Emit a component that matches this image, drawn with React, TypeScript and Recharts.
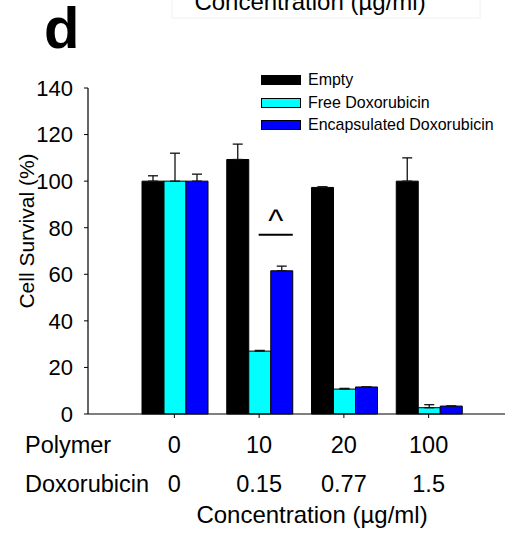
import React from "react";
import { BarChart, Bar, XAxis, YAxis, ErrorBar } from "recharts";

const polymer = ["0", "10", "20", "100"];
const doxorubicin = ["0", "0.15", "0.77", "1.5"];

const empty = [100, 109.3, 97.3, 100];
const emptyErr = [2.3, 6.6, 0.3, 10];
const freeDox = [100, 27, 10.7, 2.7];
const freeDoxErr = [12, 0.3, 0.3, 1.3];
const encDox = [100, 61.5, 11.6, 3.4];
const encDoxErr = [3, 2, 0, 0];

const yTicks = [0, 20, 40, 60, 80, 100, 120, 140];
const sigLevel = 77; // height of the "^" bracket over 10 µg/ml

const FONT = '"Liberation Sans", Arial, sans-serif';
const NARROW = '"Liberation Sans Narrow", "Arial Narrow", "Liberation Sans", sans-serif';

const SERIES = [
  { key: "empty", name: "Empty", color: "#000000" },
  { key: "free", name: "Free Doxorubicin", color: "#00ffff" },
  { key: "enc", name: "Encapsulated Doxorubicin", color: "#0000ff" },
];

// error bars are drawn upward only: [lower, upper]
const data = polymer.map((p, i) => ({
  polymer: p,
  empty: empty[i],
  emptyErr: [0, emptyErr[i]],
  free: freeDox[i],
  freeErr: [0, freeDoxErr[i]],
  enc: encDox[i],
  encErr: [0, encDoxErr[i]],
}));

function ConcTick(props: any) {
  const { x, y, payload, index } = props;
  return (
    <g fontFamily={FONT} fontSize={23.5} fill="#000">
      <text x={x} y={y + 35} textAnchor="middle">
        {payload.value}
      </text>
      <text x={x} y={y + 74} textAnchor="middle">
        {doxorubicin[index]}
      </text>
    </g>
  );
}

function SigMark(props: any) {
  if (props.index !== 1) return null;
  const { x, y, width, height } = props;
  const value = encDox[1];
  const h = Math.abs(height);
  const base = y + h;
  const yy = base - (sigLevel / value) * h;
  const x1 = x - width * 0.55;
  const x2 = x + width;
  return (
    <g>
      <line x1={x1} x2={x2} y1={yy} y2={yy} stroke="#000" strokeWidth={2} />
      <text
        x={(x1 + x2) / 2}
        y={yy - 4}
        textAnchor="middle"
        fontFamily={FONT}
        fontSize={32}
        fill="#000"
      >
        ^
      </text>
    </g>
  );
}

export default function App() {
  return (
    <div
      style={{
        position: "absolute",
        left: 0,
        top: 0,
        width: 507,
        height: 543,
        overflow: "hidden",
        background: "#fff",
        fontFamily: FONT,
      }}
    >
      <BarChart
        width={507}
        height={543}
        data={data}
        margin={{ top: 88, right: 2, bottom: 99, left: 28 }}
        barGap={0}
        barCategoryGap={10}
      >
        <XAxis
          dataKey="polymer"
          height={30}
          padding={{ left: 44, right: 34 }}
          axisLine={{ stroke: "#000", strokeWidth: 1.2 }}
          tickLine={{ stroke: "#000" }}
          tickSize={4}
          tickMargin={0}
          tick={<ConcTick />}
          interval={0}
        />
        <YAxis
          width={60}
          domain={[0, 140]}
          ticks={yTicks}
          interval={0}
          axisLine={{ stroke: "#000", strokeWidth: 1.2 }}
          tickLine={{ stroke: "#000" }}
          tickSize={4}
          tickMargin={11}
          tick={{ fill: "#000", fontSize: 22, fontFamily: NARROW }}
        />
        {SERIES.map((s) => (
          <Bar
            key={s.key}
            dataKey={s.key}
            name={s.name}
            fill={s.color}
            stroke="#000"
            strokeWidth={1}
            isAnimationActive={false}
            label={s.key === "enc" ? (p: any) => <SigMark {...p} /> : undefined}
          >
            <ErrorBar
              dataKey={s.key + "Err"}
              width={5}
              stroke="#111"
              strokeWidth={1.3}
            />
          </Bar>
        ))}
      </BarChart>

      {/* legend */}
      {SERIES.map((s, i) => (
        <div
          key={s.key}
          style={{
            position: "absolute",
            left: 261,
            top: 69 + i * 22.5,
            height: 22,
            display: "flex",
            alignItems: "center",
            fontSize: 17,
            color: "#000",
            whiteSpace: "nowrap",
          }}
        >
          <span
            style={{
              display: "inline-block",
              width: 38,
              height: 8,
              background: s.color,
              border: "1px solid #000",
              marginRight: 7,
            }}
          />
          <span style={{ display: "inline-block", transform: "scaleX(0.94)", transformOrigin: "left center" }}>
            {s.name}
          </span>
        </div>
      ))}

      <svg
        width={507}
        height={543}
        style={{ position: "absolute", left: 0, top: 0, pointerEvents: "none" }}
      >
        <rect x={172} y={-2} width={308} height={20} fill="none" stroke="#f0f0f0" />
        <text x={310} y={10} textAnchor="middle" fontFamily={FONT} fontSize={24} fill="#000">
          Concentration (µg/ml)
        </text>
        <text x={44} y={48} fontFamily={FONT} fontSize={58} fontWeight="bold" fill="#000">
          d
        </text>
        <text
          transform="translate(34 231) rotate(-90)"
          textAnchor="middle"
          fontFamily={FONT}
          fontSize={21}
          fill="#000"
        >
          Cell Survival (%)
        </text>
        <text x={25} y={453} fontFamily={FONT} fontSize={23.5} fill="#000">
          Polymer
        </text>
        <text x={25} y={492} fontFamily={FONT} fontSize={23.5} fill="#000">
          Doxorubicin
        </text>
        <text x={312} y={523} textAnchor="middle" fontFamily={FONT} fontSize={24} fill="#000">
          Concentration (µg/ml)
        </text>
      </svg>
    </div>
  );
}
